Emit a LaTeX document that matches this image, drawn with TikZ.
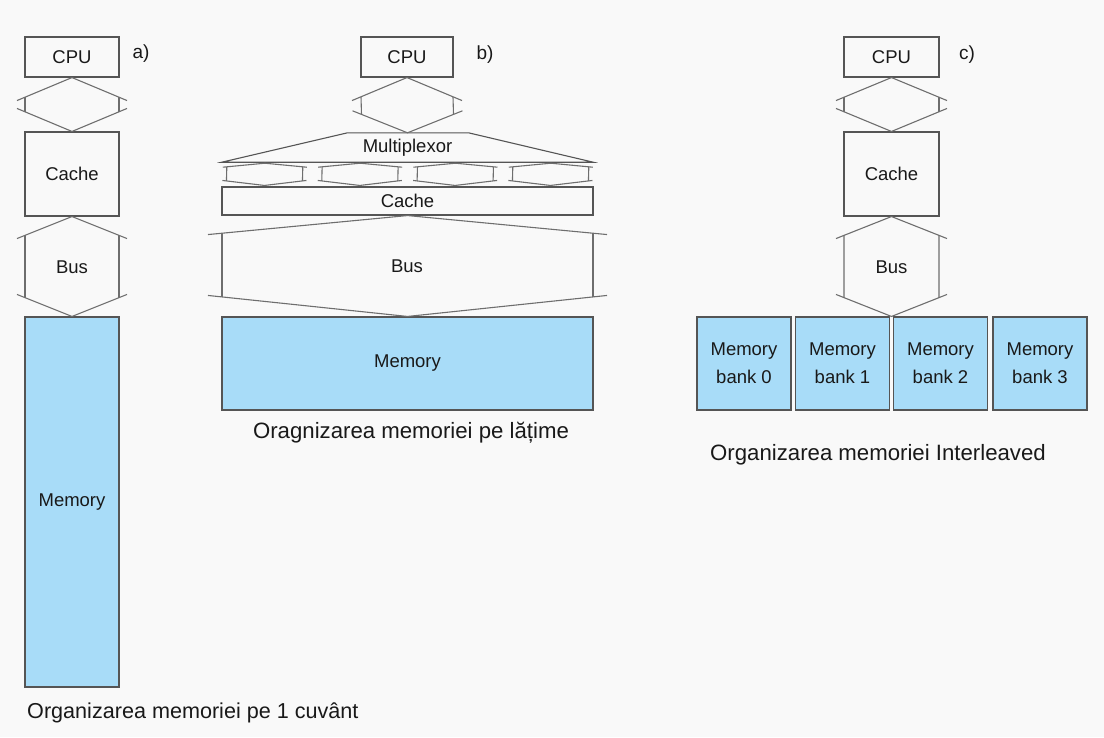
\documentclass[tikz,border=0pt]{standalone}
\usepackage{fontspec}
\setmainfont{Liberation Sans}
\usetikzlibrary{calc}

\definecolor{bgcol}{RGB}{249,249,249}
\definecolor{inkcol}{RGB}{25,25,25}
\definecolor{edgecol}{RGB}{85,85,85}
\definecolor{buscol}{RGB}{110,110,110}
\definecolor{memfill}{RGB}{168,220,248}

\tikzset{
  box/.style={draw=edgecol, line width=1.1pt, inner sep=0pt, text=inkcol,
              font=\fontsize{18.5}{22}\selectfont},
  membox/.style={box, fill=memfill},
  busline/.style={draw=buscol, line width=1.1pt, line join=miter},
  buslabel/.style={text=inkcol, font=\fontsize{18.5}{22}\selectfont, inner sep=0pt},
  tag/.style={text=inkcol, font=\fontsize{19}{22}\selectfont, inner sep=0pt},
  caption/.style={text=inkcol, font=\fontsize{22.2}{26}\selectfont, inner sep=0pt},
}

% Bus connector between two vertically aligned anchors:
% #1 upper anchor, #2 lower anchor, #3 half width of the sides,
% #4 overhang of the slanted ends, #5 drop of the upper slopes, #6 rise of the lower slopes
\newcommand\buslink[6]{%
  \pgfmathsetmacro\bsw{#3}%
  \pgfmathsetmacro\bso{#3+#4}%
  \pgfmathsetmacro\bst{#5*#3/(#3+#4)}%
  \pgfmathsetmacro\bsb{#6*#3/(#3+#4)}%
  \draw[busline] ($(#1)+(-\bso,#5)$) -- (#1) -- ($(#1)+(\bso,#5)$);
  \draw[busline] ($(#2)+(-\bso,-#6)$) -- (#2) -- ($(#2)+(\bso,-#6)$);
  \draw[busline] ($(#1)+(-\bsw,\bst)$) -- ($(#2)+(-\bsw,-\bsb)$);
  \draw[busline] ($(#1)+(\bsw,\bst)$) -- ($(#2)+(\bsw,-\bsb)$);
}

\begin{document}
\begin{tikzpicture}[x=1pt,y=-1pt]
  \fill[bgcol] (0,0) rectangle (1104,737);
  \useasboundingbox (0,0) rectangle (1104,737);

  % ---------- a) one-word-wide memory ----------
  \node[box, minimum width=94pt, minimum height=40pt] (cpuA) at (72,57) {CPU};
  \node[tag] (tagA) at (141,54) {a)};
  \node[box, minimum width=94pt, minimum height=84pt] (cacheA) at (72,174) {Cache};
  \node[membox, minimum width=94pt, minimum height=370pt] (memA) at (72,502) {Memory};
  \buslink{cpuA.south}{cacheA.north}{47}{8}{23}{23}
  \buslink{cacheA.south}{memA.north}{47}{8}{22}{22}
  \node[buslabel] (busA) at (72,267) {Bus};
  \node[caption, anchor=west, font=\fontsize{21.6}{26}\selectfont] (capA) at (27,713)
       {Organizarea memoriei pe 1 cuvânt};

  % ---------- b) wide memory ----------
  \node[box, minimum width=92pt, minimum height=40pt] (cpuB) at (407,57) {CPU};
  \node[tag] (tagB) at (485,55) {b)};
  \node[inner sep=0pt, minimum width=371pt, minimum height=29pt, text=inkcol,
        font=\fontsize{18.5}{22}\selectfont] (mux) at (407.5,147.5) {Multiplexor};
  \draw[busline, draw=edgecol] (mux.south west) -- ($(mux.north)+(-60,0)$)
        -- ($(mux.north)+(61,0)$) -- (mux.south east) -- cycle;
  \node[box, minimum width=371pt, minimum height=28pt] (cacheB) at (407.5,201) {Cache};
  \node[membox, minimum width=371pt, minimum height=93pt] (memB) at (407.5,363.5) {Memory};
  \buslink{cpuB.south}{mux.north}{46}{9}{23}{22}
  \foreach \i in {0,1,2,3} {
    \coordinate (mt\i) at ($(mux.south west)+(43+95.33*\i,1)$);
    \coordinate (mb\i) at ($(cacheB.north west)+(43+95.33*\i,-1)$);
    \buslink{mt\i}{mb\i}{38}{4}{4}{5}
  }
  \buslink{cacheB.south}{memB.north}{185.5}{14}{19}{21}
  \node[buslabel] (busB) at (407,266) {Bus};
  \node[caption] (capB) at (411,433) {Oragnizarea memoriei pe lățime};

  % ---------- c) interleaved memory ----------
  \node[box, minimum width=95pt, minimum height=40pt] (cpuC) at (891.5,57) {CPU};
  \node[tag] (tagC) at (967,55) {c)};
  \node[box, minimum width=95pt, minimum height=84pt] (cacheC) at (891.5,174) {Cache};
  \foreach \k/\cx in {0/744, 1/842.5, 2/940.5, 3/1040} {
    \node[membox, minimum width=94pt, minimum height=93pt, align=center,
          font=\fontsize{18.5}{28}\selectfont] (bank\k) at (\cx,363.5) {Memory\\bank \k};
  }
  \coordinate (banktop) at ($(bank1.north east)!0.5!(bank2.north west)$);
  \buslink{cpuC.south}{cacheC.north}{47.5}{8}{23}{23}
  \buslink{cacheC.south}{banktop}{47.5}{8}{22}{22}
  \node[buslabel] (busC) at (891.5,267) {Bus};
  \node[caption, anchor=west] (capC) at (710,455) {Organizarea memoriei Interleaved};
\end{tikzpicture}
\end{document}
